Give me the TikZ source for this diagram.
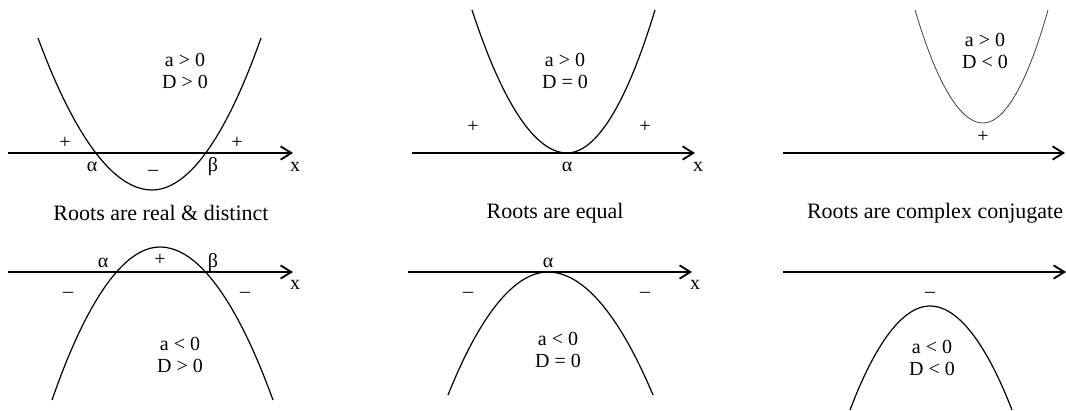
\documentclass[tikz,border=0pt]{standalone}
\usepackage{fontspec}
\setmainfont{Liberation Serif}
\usetikzlibrary{arrows.meta}

\tikzset{
  axis/.style={line width=1.9pt,-{Straight Barb[length=8pt,width=10pt,line width=1.4pt]}},
  curve/.style={line width=0.9pt},
  thincurve/.style={line width=0.6pt,black!75},
  lbl/.style={font=\fontsize{15}{16.5}\selectfont,inner sep=0pt},
  cond/.style={lbl,align=center},
  captxt/.style={font=\fontsize{16.5}{18}\selectfont,inner sep=0pt}
}

\begin{document}
\begin{tikzpicture}[x=0.75pt,y=-0.75pt]
\useasboundingbox (0,0) rectangle (1066,410);

% ===== Top row: a > 0 =====
% Panel 1
\coordinate (ax1s) at (8,153);
\coordinate (ax1e) at (293,153);
\draw[axis] (ax1s) -- (ax1e);
\draw[curve] (38,38) parabola bend (152,190) (261,38);
\node[cond] (c1) at (185,71) {a > 0\\D > 0};
\node[lbl] (p1a) at (65,143) {+};
\node[lbl] (p1b) at (237,143) {+};
\node[lbl] (al1) at (92,167) {α};
\node[lbl] (be1) at (213,167) {β};
\node[lbl] (m1) at (153,173) {–};
\node[lbl] (x1) at (295,167) {x};
\node[captxt] (t1) at (161,213) {Roots are real \& distinct};

% Panel 2
\coordinate (ax2s) at (412,153);
\coordinate (ax2e) at (695,153);
\draw[axis] (ax2s) -- (ax2e);
\draw[curve] (472,10) parabola bend (567,153) (655,10);
\node[cond] (c2) at (565,71) {a > 0\\D = 0};
\node[lbl] (p2a) at (473,127) {+};
\node[lbl] (p2b) at (645,127) {+};
\node[lbl] (al2) at (567,167) {α};
\node[lbl] (x2) at (698,167) {x};
\node[captxt] (t2) at (555,213) {Roots are equal};

% Panel 3
\coordinate (ax3s) at (783,153);
\coordinate (ax3e) at (1065,153);
\draw[axis] (ax3s) -- (ax3e);
\draw[thincurve] (915,10) parabola bend (983,123) (1048,10);
\node[cond] (c3) at (985,51) {a > 0\\D < 0};
\node[lbl] (p3) at (983,137) {+};
\node[captxt] (t3) at (935,213) {Roots are complex conjugate};

% ===== Bottom row: a < 0 =====
% Panel 4
\coordinate (ax4s) at (8,272);
\coordinate (ax4e) at (293,272);
\draw[axis] (ax4s) -- (ax4e);
\draw[curve] (52,400) parabola bend (160,247) (273,400);
\node[cond] (c4) at (180,355) {a < 0\\D > 0};
\node[lbl] (al4) at (103,263) {α};
\node[lbl] (p4) at (160,260) {+};
\node[lbl] (be4) at (213,263) {β};
\node[lbl] (m4a) at (68,295) {–};
\node[lbl] (m4b) at (245,295) {–};
\node[lbl] (x4) at (295,285) {x};

% Panel 5
\coordinate (ax5s) at (408,272);
\coordinate (ax5e) at (692,272);
\draw[axis] (ax5s) -- (ax5e);
\draw[curve] (448,395) parabola bend (548,272) (653,395);
\node[cond] (c5) at (558,350) {a < 0\\D = 0};
\node[lbl] (al5) at (548,263) {α};
\node[lbl] (m5a) at (468,295) {–};
\node[lbl] (m5b) at (645,295) {–};
\node[lbl] (x5) at (695,285) {x};

% Panel 6
\coordinate (ax6s) at (783,272);
\coordinate (ax6e) at (1066,272);
\draw[axis] (ax6s) -- (ax6e);
\draw[curve] (850,410) parabola bend (930,306) (1012,410);
\node[cond] (c6) at (932,358) {a < 0\\D < 0};
\node[lbl] (m6) at (930,295) {–};
\node[lbl] (x6) at (1071,285) {x};

\end{tikzpicture}
\end{document}
